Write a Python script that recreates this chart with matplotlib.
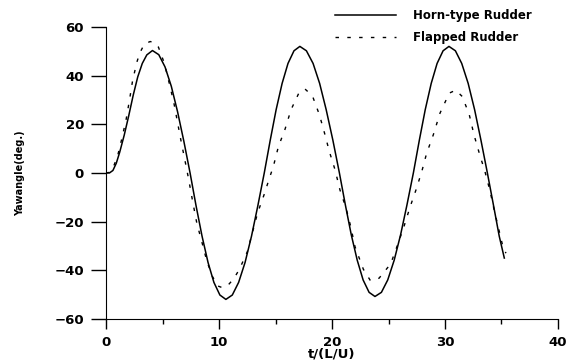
import numpy as np
import matplotlib
matplotlib.use('Agg')
from matplotlib import pyplot as plt
from matplotlib.ticker import MultipleLocator

# values
horn_t = [0, 0.3, 0.6, 0.9, 1.2, 1.6, 2.0, 2.4, 2.8, 3.2, 3.6, 4.1,
          4.66, 5.21, 5.77, 6.32, 6.88, 7.43,
          7.96, 8.49, 9.02, 9.54, 10.07, 10.6,
          11.17, 11.73, 12.3, 12.87, 13.43, 14.0,
          14.53, 15.05, 15.58, 16.1, 16.63, 17.15,
          17.73, 18.32, 18.9, 19.48, 20.07, 20.65,
          21.18, 21.7, 22.23, 22.75, 23.28, 23.8,
          24.37, 24.93, 25.5, 26.07, 26.63, 27.2,
          27.73, 28.25, 28.78, 29.3, 29.83, 30.35,
          30.92, 31.48, 32.05, 32.62, 33.18, 33.75,
          34.3, 34.8, 35.25]
horn_v = [0, 0, 1, 4, 8.5, 15.5, 23.5, 32, 39.5, 45, 48.5, 50.3,
          48.6, 43.6, 35.6, 25.2, 13.0, 0,
          -13.5, -26, -36.8, -45.0, -50.2, -52,
          -50.2, -45.0, -36.8, -26, -13.5, 0,
          13.5, 26, 36.8, 45.0, 50.2, 52,
          50.2, 45.0, 36.8, 26, 13.5, 0,
          -13.2, -25.4, -35.9, -44.0, -49.1, -50.8,
          -49.1, -44.0, -35.9, -25.4, -13.2, 0,
          13.5, 26, 36.8, 45.0, 50.2, 52,
          50.2, 45.0, 36.8, 26, 13.5, 0,
          -13.5, -26, -35]

flap_t = [0, 0.3, 0.6, 1.0, 1.4, 1.77, 2.07, 2.33, 2.71, 3.0, 3.39, 3.9,
          4.3, 4.63, 5.16, 5.58, 6.0, 6.31, 6.64, 7.0, 7.3, 7.67,
          8.03, 8.47, 8.9, 9.4, 9.9, 10.3, 10.82, 11.3, 11.8, 12.5,
          12.95, 13.4, 13.98, 14.5, 14.8, 15.25, 15.84, 16.37, 17.08, 17.6,
          18.26, 18.88, 19.38, 19.76, 20.27, 20.7, 21.24, 21.65, 22.03, 22.77,
          23.4, 24.16, 25.19, 25.8, 26.37, 26.9, 27.43, 27.94, 28.37, 28.96,
          29.56, 30.38, 30.95, 31.53, 32.15, 32.57, 33.04, 33.54, 34.0, 34.34,
          34.75, 35.16, 35.4]
flap_v = [0, 0.2, 2, 6.7, 14.3, 22, 30, 37.6, 45.4, 49.5, 53, 54,
          53.5, 51.7, 45, 37, 28.7, 21, 12.9, 4.6, -2.5, -12,
          -20.7, -28.3, -36, -42.5, -46.5, -47.2, -46, -43.5, -39.6, -32.4,
          -24.5, -16.6, -9, -1.5, 2.6, 10.8, 18, 26, 33, 34.5,
          31.7, 23.9, 15.6, 8.8, 1.2, -7, -14.5, -22, -30.3, -39.6,
          -44.3, -43.3, -37.4, -29.6, -22, -14.1, -7, 0.5, 8, 15.6,
          24.6, 32.8, 34, 31.4, 23.9, 15.6, 8, 0.5, -7.7, -15,
          -23, -31, -33]

labels = ['Horn-type Rudder', 'Flapped Rudder']

fig = plt.figure(figsize=(5.8, 3.64), dpi=100)
ax = fig.add_axes([0.183, 0.124, 0.779, 0.802])

ax.plot(horn_t, horn_v, color='black', lw=1.1, label=labels[0])
ax.plot(flap_t, flap_v, color='black', lw=1.0, linestyle=(0, (2.5, 6)), label=labels[1])

ax.set_xlim(0, 40)
ax.set_ylim(-60, 60)
ax.xaxis.set_major_locator(MultipleLocator(10))
ax.xaxis.set_minor_locator(MultipleLocator(5))
ax.yaxis.set_major_locator(MultipleLocator(20))

ax.spines['top'].set_visible(False)
ax.spines['right'].set_visible(False)
ax.tick_params(axis='y', which='major', direction='out', length=11, width=1, pad=5)
ax.tick_params(axis='x', which='major', direction='out', length=7, width=1, pad=5)
ax.tick_params(axis='x', which='minor', direction='out', length=3.5, width=1)
for lab in ax.get_xticklabels() + ax.get_yticklabels():
    lab.set_fontweight('bold')
    lab.set_fontsize(9.5)

ax.set_xlabel('t/(L/U)', fontsize=9.5, fontweight='bold', labelpad=-1)
ax.set_ylabel('Yawangle(deg.)', fontsize=7, fontweight='bold', labelpad=21)

leg = ax.legend(loc='upper left', bbox_to_anchor=(335 / 580, 1 - 9 / 364),
                bbox_transform=fig.transFigure, frameon=False,
                handlelength=5.2, handletextpad=1.4, labelspacing=0.75,
                borderpad=0, borderaxespad=0, prop={'weight': 'bold', 'size': 8.5})

fig.savefig('out.png', dpi=100)
